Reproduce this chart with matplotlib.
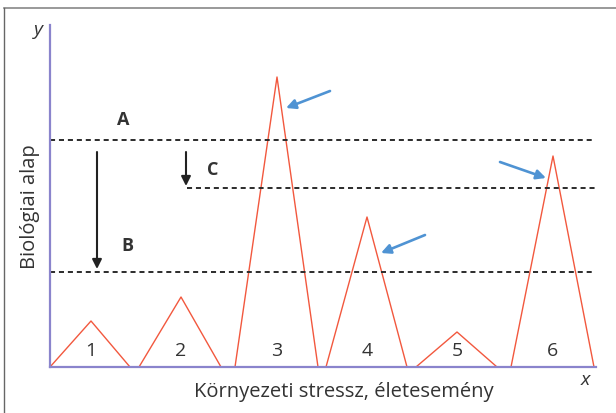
import matplotlib
matplotlib.use("Agg")
import matplotlib.pyplot as plt
from matplotlib.lines import Line2D

plt.rcParams['font.family'] = ['Open Sans', 'DejaVu Sans']

# esemenyek (haromszogek): kezdet, csucs, veg, magassag
ev_labels = ["1", "2", "3", "4", "5", "6"]
ev_start = [0, 89, 185, 276, 366, 461]
ev_peak = [41, 131, 227, 317, 407, 503]
ev_end = [80, 171, 268, 357, 447, 544]
ev_height = [46, 70, 290, 150, 35, 211]

# kuszobszintek
thr_names = ["A", "C", "B"]
thr_level = [227, 179, 95]
thr_from = [0, 137, 0]
x_max = 545

red = "#f2583e"
blue = "#4f93d3"
axis_col = "#8a84cc"
dash_col = "#2b2b2b"
txt = "#333333"

fig = plt.figure(figsize=(6.16, 4.13), dpi=100)
ax = fig.add_axes([50/616, 46/413, 546/616, 342/413])
ax.set_xlim(0, 546)
ax.set_ylim(0, 342)
for s in ["top", "right"]:
    ax.spines[s].set_visible(False)
for s in ["left", "bottom"]:
    ax.spines[s].set_color(axis_col)
    ax.spines[s].set_linewidth(1.6)
ax.set_xticks([])
ax.set_yticks([])

# haromszogek
for lab, a, p, b, h in zip(ev_labels, ev_start, ev_peak, ev_end, ev_height):
    ax.plot([a, p, b], [0, h, 0], color=red, lw=1.0, clip_on=False)
    ax.text(p, 16, lab, ha="center", va="center", fontsize=14, color=txt)

# szaggatott vonalak
for name, lvl, x0 in zip(thr_names, thr_level, thr_from):
    ax.plot([x0, x_max], [lvl, lvl], color=dash_col, lw=1.4,
            dashes=(2.6, 2.0), clip_on=False)

ax.text(73, 247, "A", ha="center", va="center", fontsize=13, fontweight="bold", color=txt)
ax.text(163, 197, "C", ha="center", va="center", fontsize=13, fontweight="bold", color=txt)
ax.text(77, 121, "B", ha="center", va="center", fontsize=13, fontweight="bold", color=txt)

# fekete nyilak
ax.annotate("", xy=(47, 98), xytext=(47, 215),
            arrowprops=dict(arrowstyle="-|>", color="#222222", lw=1.5,
                            mutation_scale=14, shrinkA=0, shrinkB=0))
ax.annotate("", xy=(136, 181), xytext=(136, 215),
            arrowprops=dict(arrowstyle="-|>", color="#222222", lw=1.5,
                            mutation_scale=14, shrinkA=0, shrinkB=0))

# kek nyilak
for tail, head in [((280, 276), (236, 259)),
                   ((450, 205), (496, 189)),
                   ((375, 132), (331, 114))]:
    ax.annotate("", xy=head, xytext=tail,
                arrowprops=dict(arrowstyle="-|>", color=blue, lw=1.9,
                                mutation_scale=14, shrinkA=0, shrinkB=0))

# tengelyfeliratok
ax.text(-12, 337, "y", ha="center", va="center", fontsize=14, style="italic", color=txt)
ax.text(535, -13, "x", ha="center", va="center", fontsize=14, style="italic", color=txt)
ax.text(-20, 160, "Biológiai alap", ha="center", va="center", rotation=90,
        fontsize=14.5, color=txt)
ax.text(294, -25, "Környezeti stressz, életesemény", ha="center", va="center",
        fontsize=14.5, color=txt)

# keret
fig.add_artist(Line2D([4/616, 1], [1 - 8/413, 1 - 8/413], color="#888888", lw=1.2))
fig.add_artist(Line2D([4/616, 4/616], [0, 1 - 8/413], color="#666666", lw=1.0))

fig.savefig("out.png", dpi=100)
